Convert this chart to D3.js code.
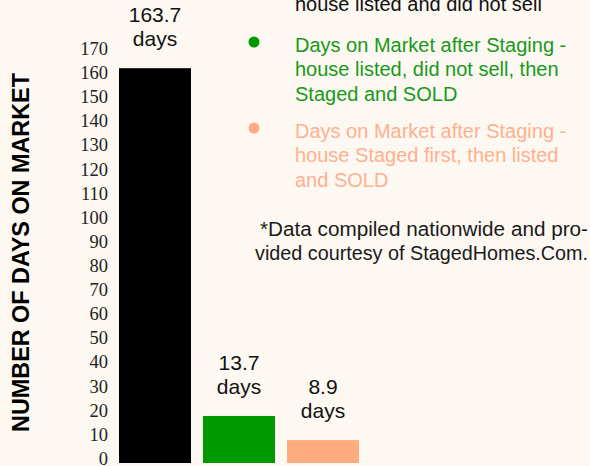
<!DOCTYPE html>
<html>
<head>
<meta charset="utf-8">
<script src="https://cdn.jsdelivr.net/npm/d3@7"></script>
<style>
  body { margin: 0; background: #fdf8f2; }
  svg { display: block; }
</style>
</head>
<body>
<div id="chart"></div>
<script>
// The data
var categories = ['Before Staging', 'Listed, then Staged', 'Staged first'];
var barValues = [163.7, 19.5, 9.5];          // bar heights as drawn in the picture
var valueLabels = ['163.7', '13.7', '8.9'];  // printed labels
var barColors = ['#000000', '#009900', '#ffab80'];
var yTicks = d3.range(0, 171, 10);

var legendLines = [
  ['Days on Market before Staging -', 'house listed and did not sell'],
  ['Days on Market after Staging -', 'house listed, did not sell, then', 'Staged and SOLD'],
  ['Days on Market after Staging -', 'house Staged first, then listed', 'and SOLD']
];
var legendText = ['#111111', '#17991a', '#ffb08f'];
var noteLines = ['*Data compiled nationwide and pro-', 'vided courtesy of StagedHomes.Com.'];

var width = 590, height = 466;

var svg = d3.select('#chart').append('svg')
    .attr('width', width)
    .attr('height', height);

var x = d3.scaleBand()
    .domain(categories)
    .range([119, 359])
    .paddingInner(12 / 84)
    .paddingOuter(0);

var y = d3.scaleLinear()
    .domain([0, 170])
    .range([463, 53]);

// y axis, labels only
var yAxis = d3.axisLeft(y).tickValues(yTicks).tickSize(0).tickPadding(0);
var gy = svg.append('g')
    .attr('transform', 'translate(108,-4.5)')
    .call(yAxis);
gy.select('.domain').remove();
gy.selectAll('text')
    .style('font-family', '"Liberation Serif", "DejaVu Serif", serif')
    .style('font-size', '18.5px')
    .style('fill', '#222');

// axis title
svg.append('text')
    .attr('transform', 'translate(29,252.5) rotate(-90)')
    .attr('text-anchor', 'middle')
    .attr('textLength', 359)
    .attr('lengthAdjust', 'spacingAndGlyphs')
    .style('font-family', '"Liberation Sans", Arial, sans-serif')
    .style('font-weight', 'bold')
    .style('font-size', '23px')
    .style('fill', '#000')
    .text('NUMBER OF DAYS ON MARKET');

// bars
svg.selectAll('rect.bar')
    .data(barValues)
    .enter()
  .append('rect')
    .attr('class', 'bar')
    .attr('x', function(d, i) { return x(categories[i]); })
    .attr('y', function(d) { return y(d); })
    .attr('width', x.bandwidth())
    .attr('height', function(d) { return y(0) - y(d); })
    .style('fill', function(d, i) { return barColors[i]; });

// value labels above bars
var lbl = svg.selectAll('g.vlabel')
    .data(barValues)
    .enter()
  .append('g')
    .attr('class', 'vlabel')
    .attr('transform', function(d, i) {
      return 'translate(' + (x(categories[i]) + x.bandwidth() / 2) + ',' + y(d) + ')';
    })
    .style('font-family', '"Liberation Sans", Arial, sans-serif')
    .style('font-size', '21px')
    .style('fill', '#111')
    .attr('text-anchor', 'middle');
lbl.append('text').attr('y', -46).text(function(d, i) { return valueLabels[i]; });
lbl.append('text').attr('y', -22).text('days');

// legend
var legendTop = [-13, 52, 138];
var leg = svg.selectAll('g.legend')
    .data(legendLines)
    .enter()
  .append('g')
    .attr('class', 'legend')
    .attr('transform', function(d, i) { return 'translate(0,' + legendTop[i] + ')'; });
leg.append('circle')
    .attr('cx', 254)
    .attr('cy', -10)
    .attr('r', 5.5)
    .style('fill', function(d, i) { return barColors[i]; });
leg.each(function(lines, i) {
  d3.select(this).selectAll('text')
      .data(lines)
      .enter()
    .append('text')
      .attr('x', 295)
      .attr('y', function(d, j) { return j * 24.3; })
      .style('font-family', '"Liberation Sans", Arial, sans-serif')
      .style('font-size', '20px')
      .style('fill', legendText[i])
      .text(function(d) { return d; });
});

// footnote
var noteWidths = [328, 333];
svg.selectAll('text.note')
    .data(noteLines)
    .enter()
  .append('text')
    .attr('class', 'note')
    .attr('x', 588)
    .attr('y', function(d, i) { return 236 + i * 24; })
    .attr('text-anchor', 'end')
    .attr('textLength', function(d, i) { return noteWidths[i]; })
    .attr('lengthAdjust', 'spacingAndGlyphs')
    .style('font-family', '"Liberation Sans", Arial, sans-serif')
    .style('font-size', '20px')
    .style('fill', '#1a1a1a')
    .text(function(d) { return d; });
</script>
</body>
</html>
